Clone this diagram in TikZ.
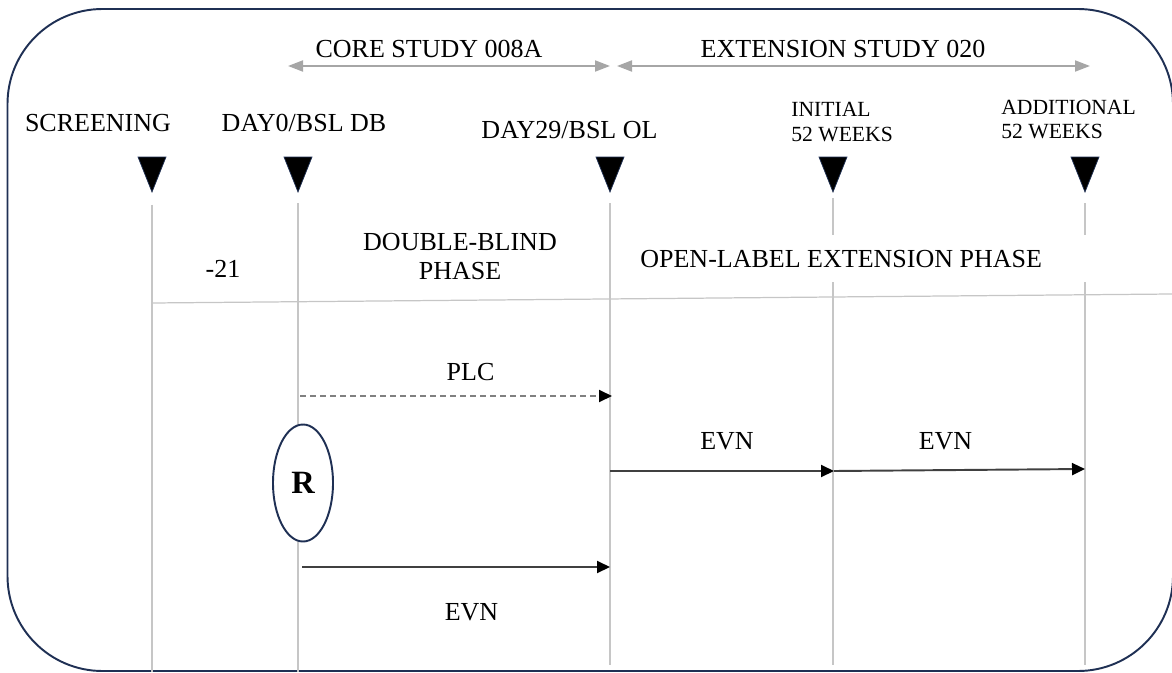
\documentclass[tikz,border=0pt]{standalone}
\usepackage{fontspec}
\setmainfont{Liberation Serif}
\usetikzlibrary{arrows.meta,calc,positioning,shapes.geometric}
\definecolor{frameblue}{RGB}{31,48,84}
\definecolor{lanegray}{RGB}{198,198,198}
\definecolor{spangray}{RGB}{166,166,166}
\tikzset{
 tl frame/.style={draw=frameblue,line width=1.1pt,rounded corners=19mm},
 tl lane/.style={draw=lanegray,line width=.7pt},
 tl mark/.style={fill=black,draw=frameblue,line width=.4pt},
 tl span/.style={spangray,line width=1.1pt,
   {Triangle[length=3mm,width=2.2mm]}-{Triangle[length=3mm,width=2.2mm]}},
 tl arm/.style={black!75,line width=1.1pt,
   -{Triangle[length=2.6mm,width=2.4mm,color=black]}},
 tl placebo/.style={tl arm,black!50,dash pattern=on 1.2mm off .8mm},
 tl label/.style={font=\fontsize{14.8}{17}\selectfont,inner sep=0pt},
 tl small/.style={font=\fontsize{12.3}{14.2}\selectfont,align=left,inner sep=0pt},
 tl rand/.style={ellipse,draw=frameblue,line width=1.1pt,fill=white,
   minimum width=1.2cm,minimum height=2.34cm,inner sep=0pt,
   font=\fontsize{18.5}{20}\selectfont\bfseries}
}
\begin{document}
\begin{tikzpicture}
 \useasboundingbox (0,0) rectangle (23.44,13.44);
 \draw[tl frame] (.15,.02) rectangle (23.46,13.26);

 % visit lanes with their markers
 \foreach \n/\x/\t/\b in {scr/3.04/9.35/0,d0/5.96/9.38/0,d29/12.2/9.38/.14,
                          w52/16.66/9.48/.14,w104/21.7/9.38/.14}{
   \coordinate (\n) at (\x,\t);
   \coordinate (\n b) at (\x,\b);
   \draw[tl lane] (\n) -- (\n b);
   \fill[tl mark] (\x-.28,10.3) -- (\x+.28,10.3) -- (\x,9.6) -- cycle;
 }
 \coordinate (split w) at (3.04,7.38);
 \coordinate (split e) at (23.44,7.56);
 \draw[tl lane] (split w) -- (split e);

 \node[tl label,anchor=base] (scr lbl) at (1.96,10.8) {SCREENING};
 \node[tl label,anchor=base] (d0 lbl) at (6.08,10.8) {DAY0/BSL DB};
 \node[tl label,anchor=base] (d29 lbl) at (11.39,10.67) {DAY29/BSL OL};
 \node[tl small,anchor=west] (w52 lbl) at (15.82,10.99) {INITIAL\\52 WEEKS};
 \node[tl small,anchor=west] (w104 lbl) at (20.02,11.05) {ADDITIONAL\\52 WEEKS};

 % study spans
 \coordinate (core w) at (5.76,12.12);
 \coordinate (core e) at (12.2,12.12);
 \coordinate (ext w) at (12.34,12.12);
 \coordinate (ext e) at (21.8,12.12);
 \draw[tl span] (core w) -- (core e);
 \draw[tl span] (ext w) -- (ext e);
 \node[tl label,anchor=base] (core) at (8.58,12.28) {CORE STUDY 008A};
 \node[tl label,anchor=base] (ext) at (16.86,12.28) {EXTENSION STUDY 020};

 % phases
 \node[tl label,anchor=base] (run in) at (4.46,7.9) {-21};
 \node[tl label,align=center] (db) at (9.2,8.31) {DOUBLE-BLIND\\PHASE};
 \node[tl label,anchor=west,fill=white,text width=8.7cm,align=flush left,
       inner xsep=.5cm,minimum height=.94cm,text depth=0pt] (ole)
       at (12.3,8.27) {OPEN-LABEL EXTENSION PHASE};

 % treatment arms
 \node[tl rand] (rand) at (6.06,3.78) {R};
 \coordinate (plc w) at (6.0,5.52);
 \coordinate (plc e) at (12.24,5.52);
 \coordinate (evn w) at (6.04,2.1);
 \coordinate (evn e) at (12.2,2.1);
 \coordinate (ol w) at (12.2,4.02);
 \coordinate (ol m) at (16.68,4.02);
 \coordinate (ol e) at (21.7,4.06);
 \draw[tl placebo] (plc w) -- (plc e);
 \draw[tl arm] (evn w) -- (evn e);
 \draw[tl arm] (ol w) -- (ol m);
 \draw[tl arm] (ol m) -- (ol e);
 \node[tl label,anchor=base] (plc) at (9.41,5.84) {PLC};
 \node[tl label,anchor=base] (evn db) at (9.43,1.04) {EVN};
 \node[tl label,anchor=base] (evn ol1) at (14.54,4.46) {EVN};
 \node[tl label,anchor=base] (evn ol2) at (18.91,4.46) {EVN};
\end{tikzpicture}
\end{document}
